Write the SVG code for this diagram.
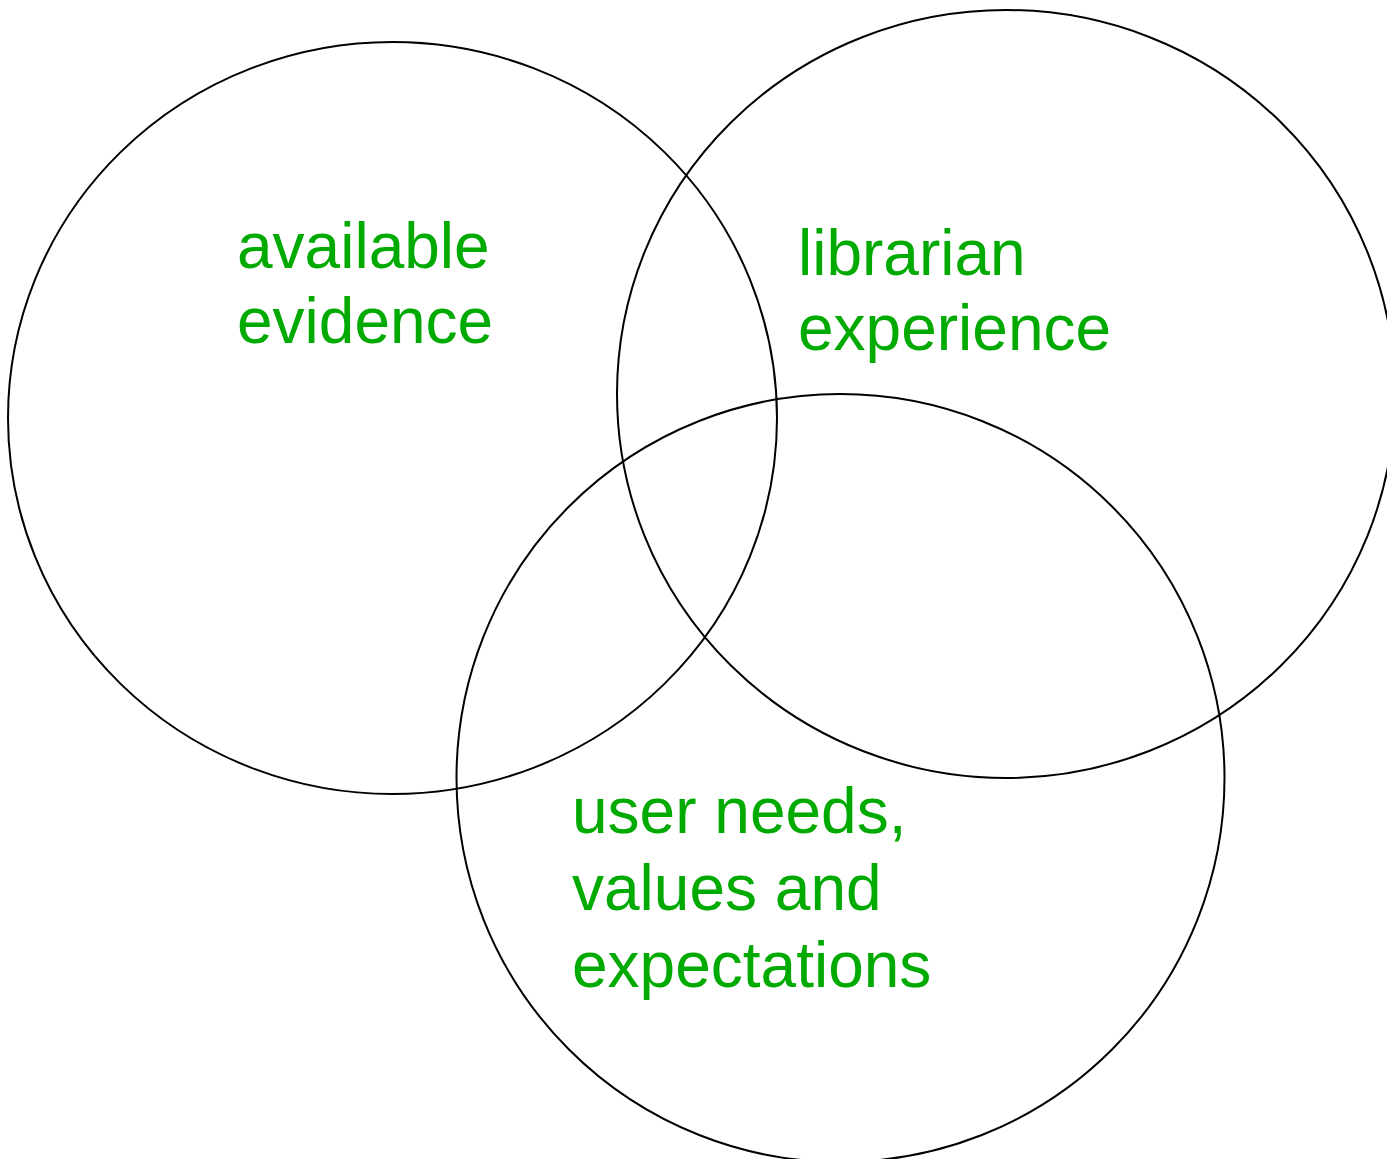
<svg xmlns="http://www.w3.org/2000/svg" width="1387" height="1159" viewBox="0 0 1387 1159">
<style>
.c{fill:none;stroke:#000;stroke-width:2}
.t{font-family:"Liberation Sans",Arial,sans-serif;font-size:64px;fill:#00AA00}
</style>
<rect width="1387" height="1159" fill="#fff"/>
<g id="evidence">
<ellipse class="c" cx="392.5" cy="418" rx="384.5" ry="376"/>
<text class="t" x="237" y="268">available</text>
<text class="t" x="237" y="343">evidence</text>
</g>
<g id="experience">
<ellipse class="c" cx="1006" cy="394" rx="389" ry="384"/>
<text class="t" x="798" y="275">librarian</text>
<text class="t" x="798" y="350">experience</text>
</g>
<g id="user">
<ellipse class="c" cx="840.5" cy="778" rx="384" ry="384"/>
<text class="t" x="572" y="833">user needs,</text>
<text class="t" x="572" y="910">values and</text>
<text class="t" x="572" y="987">expectations</text>
</g>
<g id="connectors"></g>
</svg>
